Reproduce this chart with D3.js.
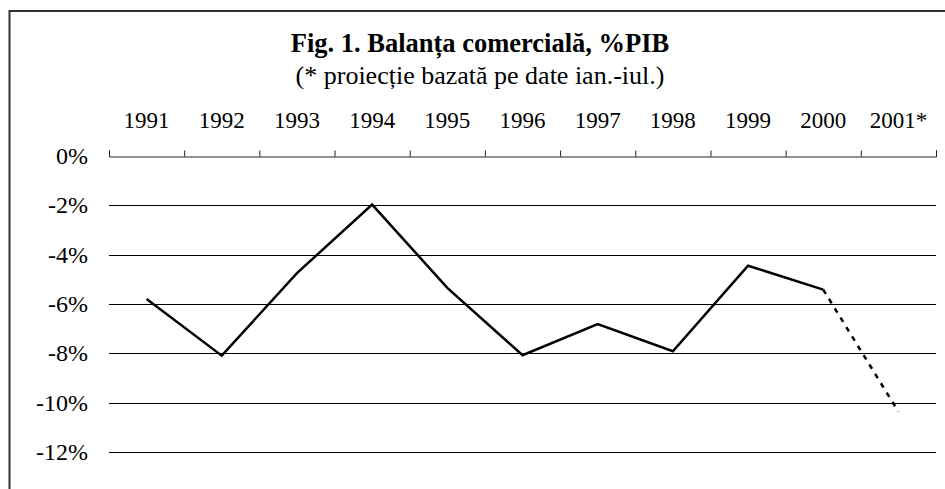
<!DOCTYPE html>
<html>
<head>
<meta charset="utf-8">
<script src="https://d3js.org/d3.v7.min.js"></script>
<style>
  body { margin: 0; background: #fff; }
  text { font-family: "Liberation Serif", "Times New Roman", serif; fill: #000; }
</style>
</head>
<body>
<svg id="chart" width="945" height="489"></svg>
<script>
// values
var years = ["1991","1992","1993","1994","1995","1996","1997","1998","1999","2000","2001*"];
var balance = [-5.8, -8.1, -4.75, -1.97, -5.35, -8.08, -6.82, -7.92, -4.45, -5.42, -10.37];
var yTicks = [0, -2, -4, -6, -8, -10, -12];
var projectedFrom = 9; // 2000 -> 2001* is a projection

var svg = d3.select("#chart");

// frame
svg.append("rect")
    .attr("x", 9.5).attr("y", 11)
    .attr("width", 960).attr("height", 500)
    .attr("fill", "none")
    .attr("stroke", "#333")
    .attr("stroke-width", 2);

var left = 109, right = 936, top0 = 156;
var x = d3.scaleBand().domain(years).range([left, right]);
var xEdge = d3.scaleLinear().domain([0, years.length]).range([left, right]);
var y = d3.scaleLinear().domain([0, -12]).range([top0, 451.8]);

// title
svg.append("text")
    .attr("x", 480).attr("y", 52)
    .attr("text-anchor", "middle")
    .attr("font-weight", "bold")
    .style("font-size", "26.5px")
    .text("Fig. 1. Balanța comercială, %PIB");
svg.append("text")
    .attr("x", 480).attr("y", 84)
    .attr("text-anchor", "middle")
    .style("font-size", "26px")
    .text("(* proiecție bazată pe date ian.-iul.)");

// gridlines
svg.append("g")
    .selectAll("line")
    .data(yTicks.filter(d => d != 0))
    .join("line")
    .attr("x1", left).attr("x2", right)
    .attr("y1", d => Math.round(y(d)) + 0.5)
    .attr("y2", d => Math.round(y(d)) + 0.5)
    .attr("stroke", "#000")
    .attr("stroke-width", 1);

// y labels
svg.append("g")
    .attr("transform", "translate(" + left + ",0)")
    .call(d3.axisLeft(y).tickValues(yTicks).tickSize(0).tickPadding(21)
        .tickFormat(d => d + "%"))
    .call(g => g.select(".domain").remove())
    .call(g => g.selectAll("text")
        .style("font-size", "24px")
        .style("font-family", "'Liberation Serif', serif"));

// category axis at 0%
svg.append("g")
    .attr("transform", "translate(0," + (top0 + 0.5) + ")")
    .call(d3.axisTop(xEdge).tickValues(d3.range(years.length + 1)).tickSize(6).tickFormat(""))
    .call(g => g.selectAll("path,line").attr("stroke", "#222"));

svg.append("g")
    .attr("transform", "translate(0," + top0 + ")")
    .call(d3.axisTop(x).tickSize(0).tickPadding(28))
    .call(g => g.select(".domain").remove())
    .call(g => g.selectAll("text")
        .style("font-size", "23px")
        .style("font-family", "'Liberation Serif', serif"));

// line
var pts = years.map((d, i) => ({year: d, v: balance[i]}));
var line = d3.line()
    .x(d => x(d.year) + x.bandwidth() / 2)
    .y(d => y(d.v));

svg.append("path")
    .datum(pts.slice(0, projectedFrom + 1))
    .attr("d", line)
    .attr("fill", "none")
    .attr("stroke", "#000")
    .attr("stroke-width", 2.5)
    .attr("stroke-linejoin", "miter");

svg.append("path")
    .datum(pts.slice(projectedFrom))
    .attr("d", line)
    .attr("fill", "none")
    .attr("stroke", "#000")
    .attr("stroke-width", 2.5)
    .attr("stroke-dasharray", "5,6");
</script>
</body>
</html>
